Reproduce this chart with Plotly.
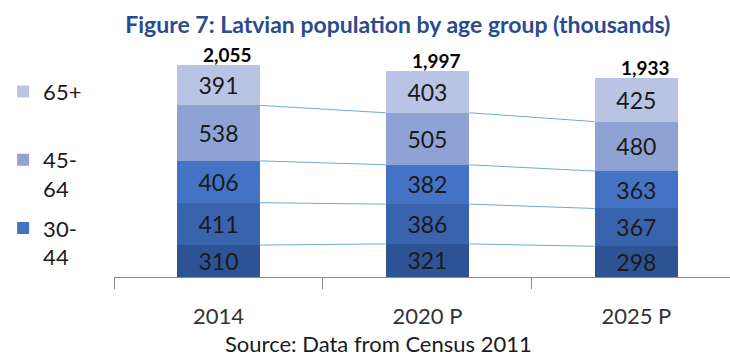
import plotly.graph_objects as go

categories = ["2014", "2020 P", "2025 P"]
series_names = ["0-14", "15-29", "30-44", "45-64", "65+"]
legend_labels = [None, None, "30-<br>44", "45-<br>64", "65+<br> "]
values = {
    "0-14": [310, 321, 298],
    "15-29": [411, 386, 367],
    "30-44": [406, 382, 363],
    "45-64": [538, 505, 480],
    "65+": [391, 403, 425],
}
totals = [2055, 1997, 1933]
total_labels = ["2,055", "1,997", "1,933"]
colors = ["#2E5394", "#3A63AD", "#4472C4", "#8FA2D4", "#B9C3E3"]

FONT = "Lato"
x = list(range(len(categories)))
bar_w = 0.40

fig = go.Figure()
for i, name in enumerate(series_names):
    vals = values[name]
    fig.add_trace(go.Bar(
        x=x, y=vals, name=legend_labels[i] or name,
        showlegend=legend_labels[i] is not None,
        legendgroup=name,
        legendrank=1000 - i,
        marker=dict(color=colors[i], line=dict(width=0)),
        width=bar_w,
        text=[str(v) for v in vals], textposition="inside",
        insidetextanchor="middle", constraintext="none",
        textfont=dict(family=FONT, size=23, color="#1a1a1a"),
        hoverinfo="skip",
    ))

# series lines connecting segment tops between bars
cum = [0, 0, 0]
for i, name in enumerate(series_names[:-1]):
    cum = [c + v for c, v in zip(cum, values[name])]
    lx, ly = [], []
    for j in range(len(categories) - 1):
        lx += [x[j] + bar_w / 2, x[j + 1] - bar_w / 2, None]
        ly += [cum[j], cum[j + 1], None]
    fig.add_trace(go.Scatter(x=lx, y=ly, mode="lines", showlegend=False,
                             line=dict(color="#6FA8DC", width=1), hoverinfo="skip"))

annotations = [dict(x=x[j], y=totals[j], xref="x", yref="y", text="<b>%s</b>" % total_labels[j],
                    showarrow=False, xanchor="center", yanchor="bottom", xshift=9, yshift=-3,
                    font=dict(family=FONT, size=19, color="#000000"))
               for j in range(len(categories))]
annotations.append(dict(text="Source: Data from Census 2011", xref="paper", yref="paper",
                        x=(378 - 114) / 616, y=-(343 - 277) / 237, xanchor="center",
                        yanchor="middle", showarrow=False,
                        font=dict(family=FONT, size=22, color="#1a1a1a")))

fig.update_layout(
    barmode="stack",
    width=730, height=356,
    margin=dict(l=114, r=0, t=40, b=79),
    paper_bgcolor="white", plot_bgcolor="white",
    font=dict(family=FONT, color="#262626"),
    title=dict(text="<b>Figure 7: Latvian population by age group (thousands)</b>",
               x=0.545, xanchor="center", y=0.93, yanchor="middle",
               font=dict(family=FONT, size=23, color="#2C4A8E")),
    legend=dict(x=-0.18, xanchor="left", y=0.87, yanchor="top",
                traceorder="grouped", tracegroupgap=8, valign="top",
                font=dict(family=FONT, size=22, color="#1a1a1a"),
                bgcolor="rgba(0,0,0,0)"),
    xaxis=dict(range=[-0.5, 2.448], tickvals=x, ticktext=categories,
               ticks="", showgrid=False, zeroline=False,
               showline=True, linecolor="#8C8C8C", linewidth=1,
               ticklabelstandoff=20,
               tickfont=dict(family=FONT, size=22, color="#333333"),
               minor=dict(tickvals=[-0.5, 0.5, 1.5], ticks="outside", ticklen=11,
                          tickcolor="#8C8C8C", tickwidth=1, showgrid=False)),
    yaxis=dict(range=[0, 2300], visible=False),
    annotations=annotations,
)

fig.write_html("out.html")
